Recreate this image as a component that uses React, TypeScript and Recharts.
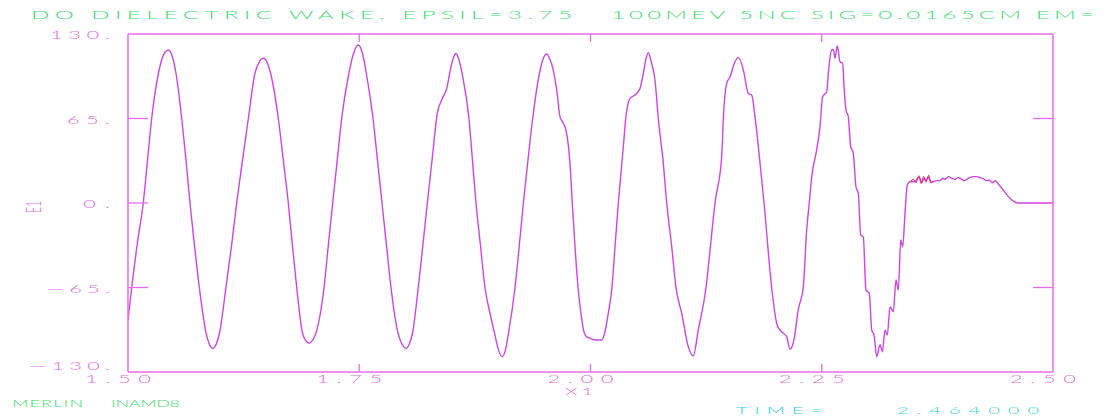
import React from 'react';
import { LineChart, Line, XAxis, YAxis } from 'recharts';

// Wake field E1 sampled along X1
const X1 = [
  1.5000, 1.5040, 1.5103, 1.5165, 1.5211, 1.5256, 1.5330, 1.5378, 1.5436, 1.5486,
  1.5518, 1.5581, 1.5627, 1.5670, 1.5719, 1.5771, 1.5844, 1.5876, 1.5916, 1.5957,
  1.5989, 1.6059, 1.6119, 1.6175, 1.6238, 1.6301, 1.6373, 1.6416, 1.6463, 1.6508,
  1.6541, 1.6625, 1.6679, 1.6733, 1.6778, 1.6824, 1.6886, 1.6919, 1.6960, 1.7000,
  1.7032, 1.7119, 1.7165, 1.7213, 1.7262, 1.7310, 1.7389, 1.7438, 1.7490, 1.7535,
  1.7576, 1.7649, 1.7697, 1.7746, 1.7795, 1.7843, 1.7919, 1.7962, 1.8005, 1.8043,
  1.8076, 1.8138, 1.8187, 1.8236, 1.8290, 1.8344, 1.8389, 1.8445, 1.8492, 1.8519,
  1.8546, 1.8578, 1.8611, 1.8686, 1.8724, 1.8762, 1.8811, 1.8859, 1.8914, 1.8962,
  1.9005, 1.9046, 1.9081, 1.9114, 1.9184, 1.9230, 1.9274, 1.9324, 1.9375, 1.9449,
  1.9486, 1.9526, 1.9562, 1.9598, 1.9638, 1.9670, 1.9706, 1.9735, 1.9778, 1.9803,
  1.9832, 1.9865, 1.9897, 1.9933, 1.9962, 1.9995, 2.0049, 2.0121, 2.0157, 2.0192,
  2.0232, 2.0265, 2.0301, 2.0355, 2.0381, 2.0427, 2.0481, 2.0535, 2.0571, 2.0600,
  2.0625, 2.0659, 2.0697, 2.0733, 2.0787, 2.0824, 2.0878, 2.0924, 2.0986, 2.1057,
  2.1111, 2.1165, 2.1249, 2.1297, 2.1346, 2.1418, 2.1436, 2.1472, 2.1508, 2.1562,
  2.1598, 2.1652, 2.1706, 2.1743, 2.1778, 2.1851, 2.1876, 2.1959, 2.2013, 2.2049,
  2.2081, 2.2121, 2.2157, 2.2200, 2.2246, 2.2300, 2.2337, 2.2365, 2.2391, 2.2445,
  2.2481, 2.2510, 2.2554, 2.2571, 2.2607, 2.2627, 2.2643, 2.2668, 2.2697, 2.2726,
  2.2741, 2.2762, 2.2787, 2.2813, 2.2841, 2.2870, 2.2895, 2.2921, 2.2949, 2.2978,
  2.3014, 2.3040, 2.3065, 2.3094, 2.3130, 2.3155, 2.3184, 2.3209, 2.3238, 2.3274,
  2.3303, 2.3328, 2.3354, 2.3375, 2.3400, 2.3425, 2.3454, 2.3508, 2.3533, 2.3555,
  2.3580, 2.3605, 2.3627, 2.3652, 2.3678, 2.3706, 2.3743, 2.3778, 2.3808, 2.3832,
  2.3868, 2.3905, 2.3941, 2.3976, 2.4013, 2.4049, 2.4084, 2.4132, 2.4175, 2.4211,
  2.4246, 2.4276, 2.4311, 2.4344, 2.4373, 2.4409, 2.4462, 2.4517, 2.4571, 2.4608,
  2.4643, 2.5000,
];

const E1 = [
  -90, -65, -30, 0, 33, 65, 100, 113, 117.7, 111,
  100, 65, 33, 0, -33, -65, -100, -108, -111.8, -108,
  -100, -65, -33, 0, 33, 65, 100, 108, 111.3, 107.5,
  100, 65, 33, 0, -33, -65, -100, -105.5, -107.9, -105,
  -100, -65, -33, 0, 33, 65, 100, 115, 121.5, 115,
  100, 65, 33, 0, -33, -65, -100, -108.5, -111.8, -108,
  -100, -65, -33, 0, 35, 69, 79, 88, 105, 112,
  115, 110, 100, 65, 33, 0, -33, -65, -85, -100,
  -113, -118.2, -113, -100, -65, -33, 0, 33, 65, 100,
  110.5, 114.6, 110.5, 102, 85, 66.4, 61.3, 56, 30.7, 0,
  -33, -65, -85, -100, -103, -104, -105.4, -105.4, -99, -84.9,
  -65, -33.6, 0, 43.3, 65, 80.5, 83, 88, 99.7, 111,
  115.6, 108, 94.6, 65, 30.5, 0, -33.6, -65, -84.9, -110.5,
  -117.7, -97.7, -65, -33, 0, 35.6, 65, 92, 97, 108.7,
  112, 102.3, 84.4, 83, 66.4, 17.7, 0, -65.4, -92.6, -97.7,
  -100, -102.8, -112.6, -105, -82, -65, -20.8, 0, 20, 40.8,
  58.7, 81.8, 85.6, 99.7, 117.7, 118, 111.3, 121, 108.7, 107.4,
  89.5, 71.5, 66.4, 43.3, 38.2, 12.5, 7.4, -24.6, -25.9, -67,
  -69.5, -97.7, -101.5, -118.2, -109, -114.4, -97.7, -101.5, -79.7, -83.6,
  -59.2, -67, -28.5, -33.6, -8, 13.8, 16.4, 16.4, 19, 20.3,
  15.6, 19, 16.4, 20.3, 15.6, 16.4, 17.2, 17.2, 19, 18.2,
  20.3, 19, 18.2, 19.5, 18.2, 17.2, 19, 20.3, 20.3, 19.5,
  18.7, 17.2, 17.7, 15.6, 17.2, 14.6, 10, 4.9, 1.5, 0.2,
  0, 0,
];

// Second trace, visible where it departs from the first on the noisy plateau
const X1_B = [2.3454, 2.3490, 2.3520, 2.3548, 2.3575, 2.3600, 2.3630, 2.3655, 2.3680, 2.3706];
const E1_B = [16.4, 18.5, 15.5, 21, 15, 20.5, 17, 21.5, 16, 16.4];

const X_TICKS = [1.5, 1.75, 2.0, 2.25, 2.5];
const X_LABELS = ['1.50', '1.75', '2.00', '2.25', '2.50'];
const Y_TICKS = [-130, -65, 0, 65, 130];
const Y_LABELS = ['—130.', '—65.', '0.', '65.', '130.'];

const TITLE_A = 'DO DIELECTRIC WAKE, EPSIL=3.75';
const TITLE_B = '100MEV 5NC SIG=0.0165CM EM=';

const DATA = X1.map((x, i) => ({ x, e1: E1[i] }));
const DATA_B = X1_B.map((x, i) => ({ x, e1: E1_B[i] }));

const FONT = 'Lato, "DejaVu Sans", sans-serif';
const SX = 2.0;
const FRAME = '#e86ce8';
const LABEL = '#e46ee4';
const CURVE = '#cc46e2';
const GREEN = '#3edc72';
const CYAN = '#30d2de';

type StretchProps = {
  x: number;
  y: number;
  text: string;
  span: number;
  anchor?: 'start' | 'end' | 'middle';
  size?: number;
  fill: string;
};

// Horizontally stretched plotter-style lettering
function Stretch({ x, y, text, span, anchor = 'start', size = 11, fill }: StretchProps) {
  return (
    <text
      transform={`translate(${x},${y}) scale(${SX},1)`}
      textAnchor={anchor}
      fontFamily={FONT}
      fontWeight={300}
      fontSize={size}
      fill={fill}
      textLength={span / SX}
      lengthAdjust="spacing"
    >
      {text}
    </text>
  );
}

const Y_SPANS: Record<string, number> = { '—130.': 81, '—65.': 63, '0.': 27, '65.': 43, '130.': 60 };

const isInner = (v: number, lo: number, hi: number) => v > lo + 1e-9 && v < hi - 1e-9;

const LeftTick = (props: any) => {
  const { payload } = props;
  const v = payload.value as number;
  const x = 128;
  const y = payload.coordinate as number;
  const label = Y_LABELS[Y_TICKS.indexOf(v)];
  const dy = v === -130 ? -2 : 5;
  return (
    <g>
      {isInner(v, -130, 130) && <line x1={x} y1={y} x2={x + 20} y2={y} stroke={FRAME} strokeWidth={1.3} />}
      <Stretch x={x - 18} y={y + dy} text={label} span={Y_SPANS[label]} anchor="end" fill={LABEL} />
    </g>
  );
};

const RightTick = (props: any) => {
  const { payload } = props;
  const v = payload.value as number;
  const x = 1053;
  const y = payload.coordinate as number;
  return isInner(v, -130, 130) ? <line x1={x - 20} y1={y} x2={x} y2={y} stroke={FRAME} strokeWidth={1.3} /> : <g />;
};

const BottomTick = (props: any) => {
  const { payload } = props;
  const v = payload.value as number;
  const x = payload.coordinate as number;
  const y = 372;
  const label = X_LABELS[X_TICKS.indexOf(v)];
  return (
    <g>
      {isInner(v, 1.5, 2.5) && <line x1={x} y1={y - 8} x2={x} y2={y} stroke={FRAME} strokeWidth={1.3} />}
      <Stretch x={x - 43} y={y + 11} text={label} span={66} fill={LABEL} />
    </g>
  );
};

const TopTick = (props: any) => {
  const { payload } = props;
  const v = payload.value as number;
  const x = payload.coordinate as number;
  const y = 34;
  return isInner(v, 1.5, 2.5) ? <line x1={x} y1={y} x2={x} y2={y + 8} stroke={FRAME} strokeWidth={1.3} /> : <g />;
};

export default function App() {
  return (
    <div style={{ position: 'absolute', left: 0, top: 0, width: 1103, height: 419, background: '#fff', overflow: 'hidden' }}>
      <LineChart width={1103} height={419} data={DATA} margin={{ top: 24, right: 40, bottom: 37, left: 118 }}>
        <XAxis
          xAxisId="main"
          dataKey="x"
          type="number"
          domain={[1.5, 2.5]}
          ticks={X_TICKS}
          interval={0}
          height={10}
          tickSize={0}
          tickMargin={0}
          tickLine={false}
          axisLine={{ stroke: FRAME, strokeWidth: 1.5 }}
          tick={<BottomTick />}
          allowDataOverflow
        />
        <XAxis
          xAxisId="top"
          orientation="top"
          dataKey="x"
          type="number"
          domain={[1.5, 2.5]}
          ticks={X_TICKS}
          interval={0}
          height={10}
          tickSize={0}
          tickMargin={0}
          tickLine={false}
          axisLine={{ stroke: FRAME, strokeWidth: 1.5 }}
          tick={<TopTick />}
          allowDataOverflow
        />
        <YAxis
          yAxisId="main"
          type="number"
          domain={[-130, 130]}
          ticks={Y_TICKS}
          interval={0}
          width={10}
          tickSize={0}
          tickMargin={0}
          tickLine={false}
          axisLine={{ stroke: FRAME, strokeWidth: 1.5 }}
          tick={<LeftTick />}
          allowDataOverflow
        />
        <YAxis
          yAxisId="right"
          orientation="right"
          type="number"
          domain={[-130, 130]}
          ticks={Y_TICKS}
          interval={0}
          width={10}
          tickSize={0}
          tickMargin={0}
          tickLine={false}
          axisLine={{ stroke: FRAME, strokeWidth: 1.5 }}
          tick={<RightTick />}
          allowDataOverflow
        />
        <Line
          xAxisId="main"
          yAxisId="main"
          dataKey="e1"
          type="monotone"
          stroke={CURVE}
          strokeWidth={1.4}
          dot={false}
          isAnimationActive={false}
        />
        <Line
          xAxisId="main"
          yAxisId="main"
          data={DATA_B}
          dataKey="e1"
          type="linear"
          stroke="#f0306a"
          strokeWidth={1}
          dot={false}
          isAnimationActive={false}
        />
      </LineChart>
      <svg width={1103} height={419} style={{ position: 'absolute', left: 0, top: 0, pointerEvents: 'none' }}>
        <Stretch x={31} y={18.5} text={TITLE_A} span={541} size={12} fill={GREEN} />
        <Stretch x={611} y={18.5} text={TITLE_B} span={483} size={12} fill={GREEN} />
        <Stretch x={565} y={394.5} text="X1" span={28} size={10} fill={LABEL} />
        <text
          transform={`translate(33,207) scale(${SX},1) rotate(-90)`}
          textAnchor="middle"
          dominantBaseline="central"
          fontFamily={FONT}
          fontWeight={300}
          fontSize={11}
          fill={LABEL}
        >
          E1
        </text>
        <Stretch x={12} y={406.5} text="MERLIN" span={71} size={9} fill={GREEN} />
        <Stretch x={111} y={406.5} text="INAMD8" span={69} size={9} fill={GREEN} />
        <Stretch x={736} y={414} text="TIME=" span={86} size={10} fill={CYAN} />
        <Stretch x={897} y={414} text="2.464000" span={142} size={10} fill={CYAN} />
      </svg>
    </div>
  );
}
